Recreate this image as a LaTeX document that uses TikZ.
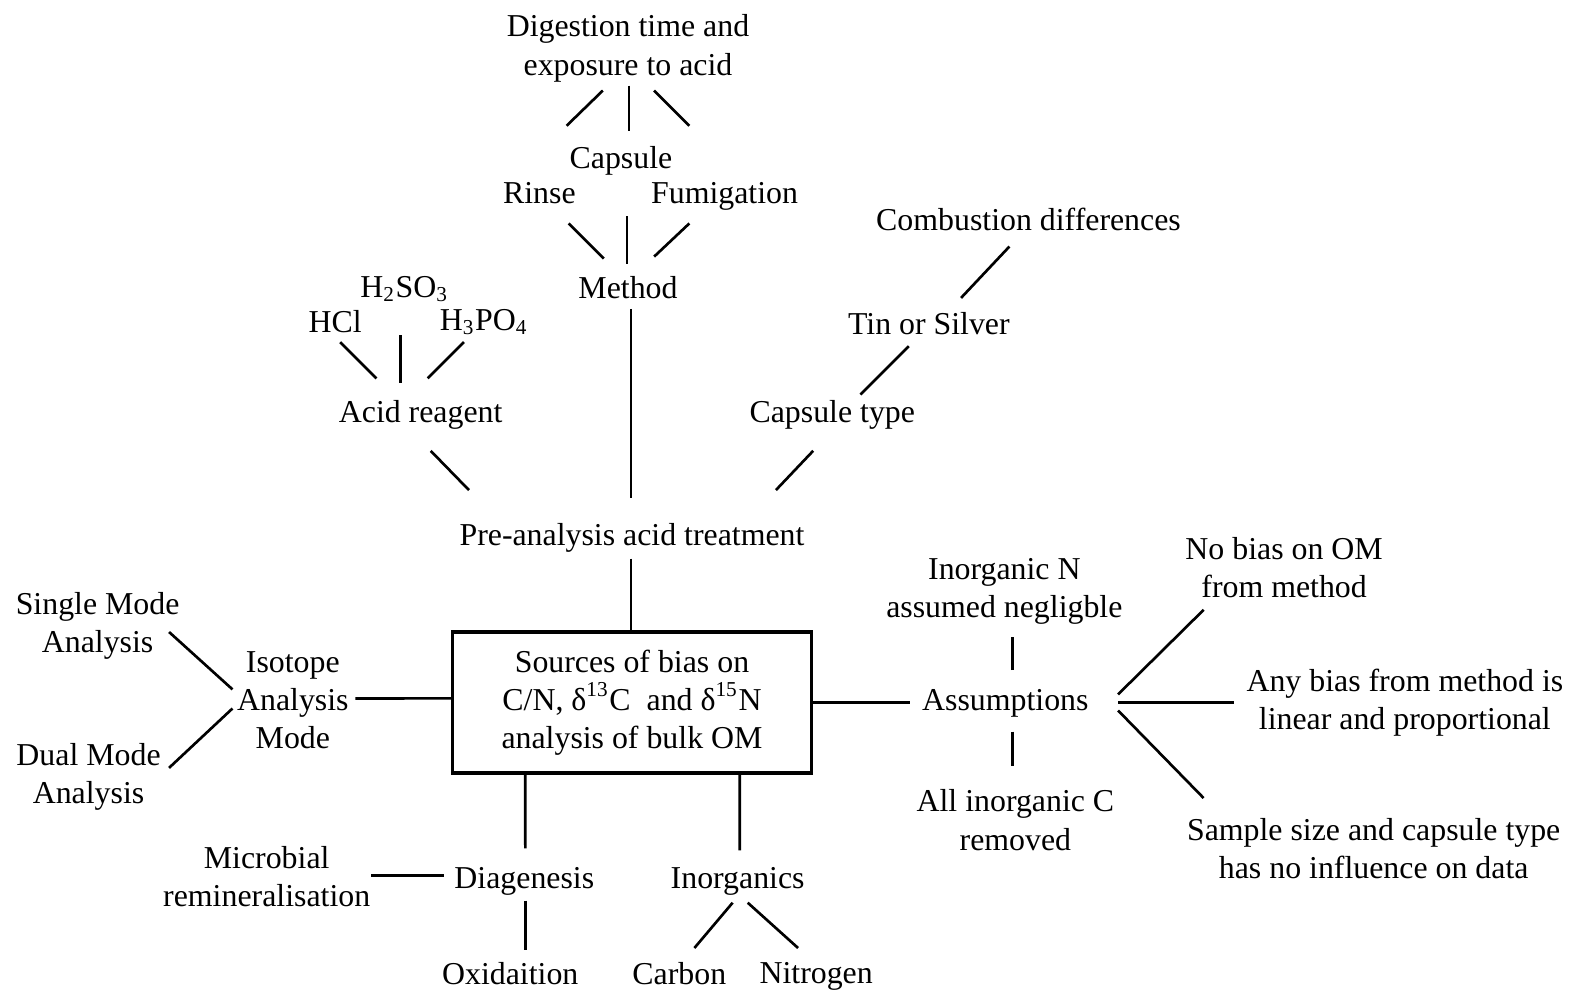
\documentclass[tikz,border=0pt]{standalone}
\usepackage{fontspec}
\setmainfont{Liberation Serif}
\usepackage{tikz}
\usetikzlibrary{positioning}

\begin{document}
\begin{tikzpicture}[x=0.01cm, y=-0.01cm,
    every node/.style={font=\fontsize{9}{10.8}\selectfont, inner sep=1pt, align=center},
    link/.style={line width=0.75pt},
    mainbox/.style={draw, line width=0.9pt, minimum width=3.56cm, minimum height=1.4cm}]
    \useasboundingbox (0,0) rectangle (1568,985);
    \node (dig) at (624,48) {Digestion time and\\exposure to acid};
    \node (cap) at (617,160) {Capsule};
    \node (rinse) at (536,192) {Rinse};
    \node (fum) at (720,195) {Fumigation};
    \node (meth) at (624,286) {Method};
    \node (comb) at (1022,218) {Combustion differences};
    \node (tin) at (923,322) {Tin or Silver};
    \node (captype) at (827,412) {Capsule type};
    \node (h2so3) at (402,287) {H\textsubscript{2}SO\textsubscript{3}};
    \node (hcl) at (333,320) {HCl};
    \node (h3po4) at (481,320) {H\textsubscript{3}PO\textsubscript{4}};
    \node (acid) at (418,412) {Acid reagent};
    \node (pre) at (628,534) {Pre-analysis acid treatment};
    \node[mainbox] (box) at (628,698) {Sources of bias on\\C/N, δ\textsuperscript{13}C\ \ and δ\textsuperscript{15}N\\analysis of bulk OM};
    \node (iso) at (291,696) {Isotope\\Analysis\\Mode};
    \node (single) at (97,622) {Single Mode\\Analysis};
    \node (dual) at (88,772) {Dual Mode\\Analysis};
    \node (assum) at (999,699) {Assumptions};
    \node (inN) at (998,588) {Inorganic N\\assumed negligble};
    \node (allC) at (1009,815) {All inorganic C\\removed};
    \node (nobias) at (1276,564) {No bias on OM\\from method};
    \node (anybias) at (1396,698) {Any bias from method is\\linear and proportional};
    \node (sample) at (1365,843) {Sample size and capsule type\\has no influence on data};
    \node (diag) at (521,876) {Diagenesis};
    \node (inorg) at (733,876) {Inorganics};
    \node (micro) at (265,871) {Microbial\\remineralisation};
    \node (oxi) at (507,967) {Oxidaition};
    \node (carbon) at (675,967) {Carbon};
    \node (nitro) at (811,970) {Nitrogen};

    \draw[link] ([shift={(-25,42)}]dig.center) -- ([shift={(-54,-35)}]cap.center);
    \draw[link] ([shift={(1,37)}]dig.center) -- ([shift={(8,-30)}]cap.center);
    \draw[link] ([shift={(26,42)}]dig.center) -- ([shift={(68,-35)}]cap.center);
    \draw[link] ([shift={(29,30)}]rinse.center) -- ([shift={(-24,-29)}]meth.center);
    \draw[link] ([shift={(6,55)}]cap.center) -- ([shift={(-1,-24)}]meth.center);
    \draw[link] ([shift={(-35,27)}]fum.center) -- ([shift={(26,-31)}]meth.center);
    \draw[link] ([shift={(3,21)}]meth.center) -- ([shift={(-1,-39)}]pre.center);
    \draw[link] ([shift={(-19,27)}]comb.center) -- ([shift={(32,-26)}]tin.center);
    \draw[link] ([shift={(-20,22)}]tin.center) -- ([shift={(28,-20)}]captype.center);
    \draw[link] ([shift={(-19,36)}]captype.center) -- ([shift={(143,-47)}]pre.center);
    \draw[link] ([shift={(5,20)}]hcl.center) -- ([shift={(-44,-36)}]acid.center);
    \draw[link] ([shift={(-4,46)}]h2so3.center) -- ([shift={(-20,-31)}]acid.center);
    \draw[link] ([shift={(-20,20)}]h3po4.center) -- ([shift={(7,-36)}]acid.center);
    \draw[link] ([shift={(10,36)}]acid.center) -- ([shift={(-162,-47)}]pre.center);
    \draw[link] ([shift={(-1,21)}]pre.center) -- ([xshift=-0.01cm]box.north);
    \draw[link] ([shift={(62,-2)}]iso.center) -- ([yshift=0.04cm]box.west);
    \draw[link] ([shift={(71,6)}]single.center) -- ([shift={(-60,-11)}]iso.center);
    \draw[link] ([shift={(80,-9)}]dual.center) -- ([shift={(-60,8)}]iso.center);
    \draw[link] (box.east) -- ([shift={(-95,-1)}]assum.center);
    \draw[link] ([shift={(7,-33)}]assum.center) -- ([shift={(8,45)}]inN.center);
    \draw[link] ([shift={(7,28)}]assum.center) -- ([shift={(-3,-54)}]allC.center);
    \draw[link] ([shift={(112,-9)}]assum.center) -- ([shift={(-80,42)}]nobias.center);
    \draw[link] ([shift={(112,-1)}]assum.center) -- ([shift={(-170,0)}]anybias.center);
    \draw[link] ([shift={(112,7)}]assum.center) -- ([shift={(-169,-50)}]sample.center);
    \draw[link] ([xshift=-1.06cm]box.south) -- ([shift={(1,-33)}]diag.center);
    \draw[link] ([xshift=1.07cm]box.south) -- ([shift={(2,-31)}]inorg.center);
    \draw[link] ([shift={(104,-1)}]micro.center) -- ([shift={(-80,-6)}]diag.center);
    \draw[link] ([shift={(1,19)}]diag.center) -- ([shift={(15,-23)}]oxi.center);
    \draw[link] ([shift={(-5,21)}]inorg.center) -- ([shift={(15,-25)}]carbon.center);
    \draw[link] ([shift={(10,21)}]inorg.center) -- ([shift={(-18,-28)}]nitro.center);
\end{tikzpicture}
\end{document}
